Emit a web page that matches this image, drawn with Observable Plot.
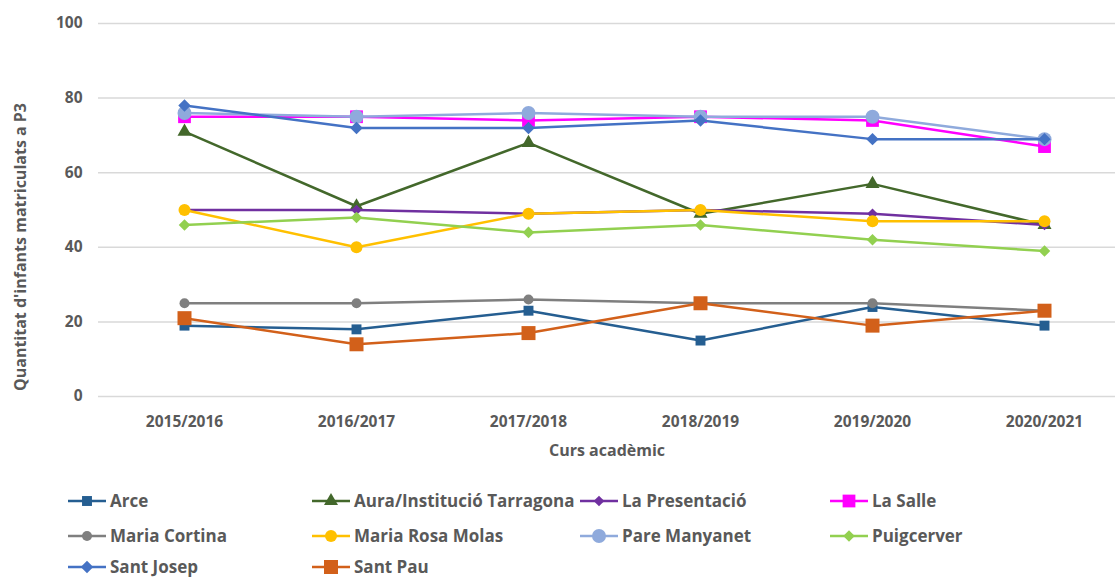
<!DOCTYPE html>
<html><head><meta charset="utf-8">
<script src="https://cdn.jsdelivr.net/npm/d3@7"></script>
<script src="https://cdn.jsdelivr.net/npm/@observablehq/plot@0.6"></script>
<style>
body{margin:0;background:#fff;font-family:"Open Sans",sans-serif;}
#chart{position:relative;width:1117px;height:578px;overflow:hidden}
#legend{position:absolute;left:0;top:470px;width:1117px;height:108px}
.item{position:absolute;display:flex;align-items:center;font-weight:bold;font-size:17px;color:#595959;white-space:nowrap;height:20px;line-height:20px}
.item svg{margin-right:4px}
</style></head><body><div id="chart"></div>
<script>
// ---- data ----
const years = ["2015/2016","2016/2017","2017/2018","2018/2019","2019/2020","2020/2021"];
const schools = ["Arce","Aura/Institució Tarragona","La Presentació","La Salle","Maria Cortina","Maria Rosa Molas","Pare Manyanet","Puigcerver","Sant Josep","Sant Pau"];
const arce = [19,18,23,15,24,19];
const aura = [71,51,68,49,57,46];
const presentacio = [50,50,49,50,49,46];
const laSalle = [75,75,74,75,74,67];
const mariaCortina = [25,25,26,25,25,23];
const mariaRosaMolas = [50,40,49,50,47,47];
const pareManyanet = [76,75,76,75,75,69];
const puigcerver = [46,48,44,46,42,39];
const santJosep = [78,72,72,74,69,69];
const santPau = [21,14,17,25,19,23];
const yTicks = [0,20,40,60,80,100];
const yLabel = "Quantitat d'infants matriculats a P3";
const xLabel = "Curs acadèmic";

// ---- styles ----
const values = [arce,aura,presentacio,laSalle,mariaCortina,mariaRosaMolas,pareManyanet,puigcerver,santJosep,santPau];
const colors = ["#255E91","#43682B","#7030A0","#FF00FF","#7F7F7F","#FFC000","#8FAADC","#92D050","#4472C4","#D2601A"];
const symbols = ["square","triangle","diamond2","square","circle","circle","circle","diamond2","diamond2","square"];
const radii = [5.6,5.2,4.8,7.2,5,6,7,5.2,5.6,7.9];

const marks = [
  Plot.ruleY(yTicks, {stroke:"#d9d9d9", strokeWidth:1.5}),
  Plot.axisY({ticks:yTicks, tickSize:0, tickPadding:16, label:null}),
  Plot.axisX({tickSize:0, tickPadding:19, label:null}),
  Plot.text([xLabel], {frameAnchor:"bottom", dy:59, fontSize:16, fontWeight:"bold", fill:"#595959"}),
  Plot.text([yLabel], {frameAnchor:"left", textAnchor:"middle", dx:-78, dy:37, rotate:-90, fontSize:16, fontWeight:"bold", fill:"#595959"})
];
schools.forEach((s,i)=>{
  const rows = years.map((y,j)=>({school:s, year:y, value:values[i][j]}));
  marks.push(Plot.line(rows, {x:"year", y:"value", stroke:colors[i], strokeWidth:2.5}));
  marks.push(Plot.dot(rows, {x:"year", y:"value", symbol:symbols[i], fill:colors[i], r:radii[i], stroke:"none"}));
});

const chart = Plot.plot({
  width:1117, height:470,
  marginLeft:98, marginRight:2, marginTop:23, marginBottom:74,
  x:{type:"point", domain:years, range:[184,1044], padding:0},
  y:{domain:[0,100]},
  style:{fontFamily:"Open Sans", fontSize:"15.5px", fontWeight:"bold", color:"#595959", background:"#fff", overflow:"visible"},
  marks
});
const root = document.getElementById("chart");
root.appendChild(chart);

// ---- legend ----
const leg = document.createElement("div");
leg.id = "legend";
root.appendChild(leg);
const colX = [68,312,580,830];
const rowY = [31,66,97];
const symMap = {square:d3.symbolSquare, triangle:d3.symbolTriangle, diamond2:d3.symbolDiamond2, circle:d3.symbolCircle};
schools.forEach((s,i)=>{
  const c = i%4, r = Math.floor(i/4);
  const it = document.createElement("div");
  it.className = "item";
  it.style.left = colX[c]+"px";
  it.style.top = (rowY[r]-10)+"px";
  const area = Math.PI*radii[i]*radii[i];
  const path = d3.symbol(symMap[symbols[i]], area)();
  it.innerHTML = `<svg width="38" height="20"><line x1="0" x2="38" y1="10" y2="10" stroke="${colors[i]}" stroke-width="2.5"/><path d="${path}" transform="translate(19,10)" fill="${colors[i]}"/></svg><span>${s}</span>`;
  leg.appendChild(it);
});
</script></body></html>
